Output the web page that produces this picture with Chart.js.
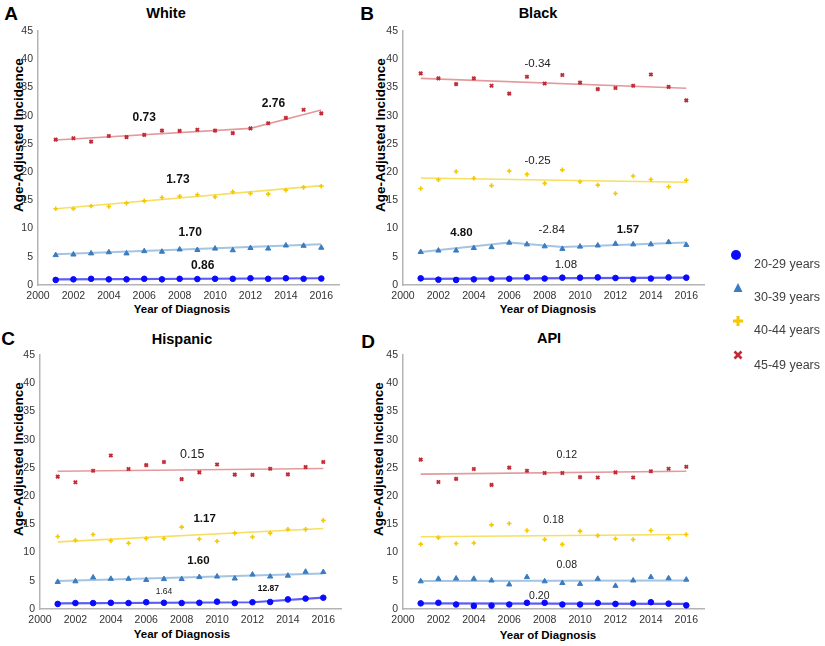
<!DOCTYPE html>
<html><head><meta charset="utf-8">
<script src="https://cdn.jsdelivr.net/npm/chart.js@4.4.0/dist/chart.umd.min.js"></script>
<style>
body{margin:0;background:#fff;width:825px;height:646px;position:relative;overflow:hidden;font-family:"Liberation Sans",Arial,sans-serif;}
canvas{position:absolute;}
.t{position:absolute;white-space:nowrap;transform:translate(-50%,-50%);color:#000;line-height:1;}
.letter{font-weight:bold;font-size:19px;}
.title{font-weight:bold;font-size:14.5px;}
.xt{font-weight:bold;font-size:11.5px;}
.yt{font-weight:bold;font-size:13.5px;transform:translate(-50%,-50%) rotate(-90deg);}
.lg{position:absolute;font-size:12.5px;color:#404040;white-space:nowrap;transform:translateY(-50%);line-height:1;}
svg{position:absolute;left:0;top:0;}
</style></head><body>
<div class="t letter" style="left:11px;top:13px">A</div>
<div class="t letter" style="left:367px;top:13px">B</div>
<div class="t letter" style="left:8px;top:338px">C</div>
<div class="t letter" style="left:368px;top:341px">D</div>
<div class="t title" style="left:166px;top:13px">White</div>
<div class="t title" style="left:538px;top:13px">Black</div>
<div class="t title" style="left:182px;top:339px">Hispanic</div>
<div class="t title" style="left:549px;top:338px">API</div>
<div class="t yt" style="left:19px;top:135px">Age-Adjusted Incidence</div>
<div class="t yt" style="left:381px;top:135px">Age-Adjusted Incidence</div>
<div class="t yt" style="left:19px;top:459px">Age-Adjusted Incidence</div>
<div class="t yt" style="left:379px;top:459px">Age-Adjusted Incidence</div>
<div class="t xt" style="left:182px;top:310px">Year of Diagnosis</div>
<div class="t xt" style="left:548px;top:310px">Year of Diagnosis</div>
<div class="t xt" style="left:182px;top:635px">Year of Diagnosis</div>
<div class="t xt" style="left:548px;top:636px">Year of Diagnosis</div>

<canvas id="cA"></canvas>
<canvas id="cB"></canvas>
<canvas id="cC"></canvas>
<canvas id="cD"></canvas>

<svg width="825" height="646">
  <circle cx="736" cy="255" r="5" fill="#0a0aff"/>
  <polygon points="738,283 742.5,292 733.5,292" fill="#3b7bbf"/>
  <path d="M738,316 L738,326 M733,321 L743,321" stroke="#f5c800" stroke-width="3"/>
  <path d="M734.5,351.5 L741.5,358.5 M741.5,351.5 L734.5,358.5" stroke="#c22a35" stroke-width="2.6"/>
</svg>
<div class="lg" style="left:754px;top:264px">20-29 years</div>
<div class="lg" style="left:754px;top:297px">30-39 years</div>
<div class="lg" style="left:754px;top:330px">40-44 years</div>
<div class="lg" style="left:754px;top:365px">45-49 years</div>

<script>
// ---------- data ----------
const years = [2001,2002,2003,2004,2005,2006,2007,2008,2009,2010,2011,2012,2013,2014,2015,2016];
const xTickValues = [2000,2002,2004,2006,2008,2010,2012,2014,2016];
const yTickValues = [0,5,10,15,20,25,30,35,40,45];
const ageGroups = ['20-29 years','30-39 years','40-44 years','45-49 years'];

// White
const white20 = [0.9,1.0,1.1,1.0,1.0,1.1,1.0,1.1,1.05,1.1,1.1,1.2,1.1,1.2,1.1,1.15];
const white30 = [5.3,5.4,5.6,5.8,5.6,6.0,5.9,6.3,6.2,6.45,6.15,6.55,6.45,7.0,6.95,6.6];
const white40 = [13.5,13.5,14.0,13.9,14.5,14.9,15.5,15.7,16.0,15.6,16.5,16.2,16.1,16.8,17.3,17.5];
const white45 = [25.75,26.0,25.4,26.4,26.2,26.6,27.35,27.3,27.5,27.35,26.9,27.75,28.65,29.6,31.05,30.4];
const white20TrendYears = [2001,2016], white20Trend = [1.0,1.2];
const white30TrendYears = [2001,2016], white30Trend = [5.45,7.2];
const white40TrendYears = [2001,2016], white40Trend = [13.5,17.6];
const white45TrendYears = [2001,2012,2016], white45Trend = [25.7,27.75,31.0];
const whiteApc = ['0.73','2.76','1.73','1.70','0.86'];

// Black
const black20 = [1.18,0.95,0.9,1.0,1.1,1.1,1.35,1.15,1.3,1.3,1.35,1.25,1.0,1.15,1.35,1.3];
const black30 = [5.85,6.1,6.1,6.55,6.7,7.5,7.2,6.85,6.4,6.8,7.0,7.3,7.2,7.2,7.6,7.1];
const black40 = [17.1,18.65,20.1,18.9,17.6,20.2,19.6,18.0,20.4,18.3,17.7,16.2,19.3,18.7,17.4,18.55];
const black45 = [37.5,36.6,35.6,36.6,35.3,33.9,36.9,35.7,37.2,35.85,34.7,34.9,35.3,37.3,35.1,32.7];
const black20TrendYears = [2001,2016], black20Trend = [1.1,1.3];
const black30TrendYears = [2001,2006,2009,2016], black30Trend = [5.85,7.55,6.73,7.55];
const black40TrendYears = [2001,2016], black40Trend = [18.95,18.2];
const black45TrendYears = [2001,2016], black45Trend = [36.6,34.85];
const blackApc = ['-0.34','-0.25','4.80','-2.84','1.57','1.08'];

// Hispanic
const hisp20 = [0.9,1.05,1.05,1.1,1.05,1.2,1.1,1.05,1.1,1.3,1.05,1.2,1.25,1.7,1.85,2.0];
const hisp30 = [4.8,4.9,5.6,5.35,5.35,5.15,5.3,5.3,5.65,5.75,5.4,6.1,5.75,5.9,6.6,6.55];
const hisp40 = [12.85,12.15,13.2,12.1,11.65,12.5,12.5,14.5,12.4,12.0,13.45,12.75,13.45,14.1,14.1,15.7];
const hisp45 = [23.45,22.45,24.5,27.2,24.8,25.5,26.05,23.0,24.2,25.6,23.8,23.75,24.85,23.85,25.15,26.05];
const hisp20TrendYears = [2001,2012,2016], hisp20Trend = [1.0,1.2,2.0];
const hisp30TrendYears = [2001,2016], hisp30Trend = [4.95,6.3];
const hisp40TrendYears = [2001,2016], hisp40Trend = [11.9,14.25];
const hisp45TrendYears = [2001,2016], hisp45Trend = [24.4,24.9];
const hispApc = ['0.15','1.17','1.60','1.64','12.87'];

// API
const api20 = [1.0,1.1,0.8,0.55,0.6,0.8,1.1,1.1,0.8,0.8,1.05,0.9,1.0,1.2,0.95,0.65];
const api30 = [4.9,5.35,5.4,5.35,5.05,4.35,5.65,4.9,4.6,4.45,5.35,4.1,5.05,5.65,5.45,5.2];
const api40 = [11.5,12.65,11.6,11.7,14.9,15.15,13.9,12.3,11.45,13.8,13.0,12.45,12.3,13.9,12.55,13.2];
const api45 = [26.45,22.5,23.05,24.8,22.0,25.05,24.5,24.1,24.1,23.35,23.3,24.2,23.3,24.4,24.85,25.2];
const api20TrendYears = [2001,2016], api20Trend = [1.0,0.9];
const api30TrendYears = [2001,2016], api30Trend = [4.95,5.05];
const api40TrendYears = [2001,2016], api40Trend = [12.8,13.2];
const api45TrendYears = [2001,2016], api45Trend = [23.9,24.4];
const apiApc = ['0.12','0.18','0.08','0.20'];

// ---------- styles ----------
const FONT = '"Liberation Sans", Arial, sans-serif';
const groupStyle = [
  {point:'#0a0aff', line:'#5c5cf6', lw:2.2, style:'circle', r:2.8, bw:1},
  {point:'#3b7bbf', line:'#a3c4e2', lw:2.0, style:'triangle', r:3.0, bw:1},
  {point:'#f5c800', line:'#f6df62', lw:1.6, style:'cross', r:2.3, bw:1.6},
  {point:'#c22a35', line:'#e49a9c', lw:1.6, style:'crossRot', r:2.3, bw:2.0}
];

function pts(xs, ys){ return xs.map((x,i)=>({x:x, y:ys[i]})); }

function buildDatasets(series, trends){
  const ds = [];
  series.forEach((vals,gi)=>{
    const st = groupStyle[gi];
    ds.push({label:ageGroups[gi], data:pts(years, vals), showLine:false,
      pointStyle:st.style, pointRadius:st.r, pointBorderWidth:st.bw,
      pointBackgroundColor:st.point, pointBorderColor:st.point, order:1});
    ds.push({label:ageGroups[gi]+' trend', data:pts(trends[gi][0], trends[gi][1]), showLine:true,
      borderColor:st.line, borderWidth:st.lw, pointRadius:0, tension:0, order:2});
  });
  return ds;
}

const apcPlugin = {
  id:'apc',
  afterDatasetsDraw(chart, args, opts){
    const {ctx} = chart; const x = chart.scales.x, y = chart.scales.y;
    ctx.save();
    (opts.items||[]).forEach(it=>{
      ctx.font = (it.bold?'bold ':'') + it.size + 'px ' + FONT;
      ctx.fillStyle = it.bold ? '#111' : '#222';
      ctx.textAlign = 'center'; ctx.textBaseline = 'middle';
      ctx.fillText(it.text, x.getPixelForValue(it.year), y.getPixelForValue(it.value));
    });
    ctx.restore();
  }
};

function makePanel(id, box, datasets, items){
  const cv = document.getElementById(id);
  cv.width = box.w; cv.height = box.h;
  cv.style.left = box.left+'px'; cv.style.top = box.top+'px';
  cv.style.width = box.w+'px'; cv.style.height = box.h+'px';
  new Chart(cv, {
    type:'scatter',
    data:{datasets},
    plugins:[apcPlugin],
    options:{
      responsive:false, animation:false, devicePixelRatio:1,
      layout:{padding:{top:box.padTop, right:box.padRight, left:0, bottom:0}},
      plugins:{legend:{display:false}, tooltip:{enabled:false}, apc:{items}},
      scales:{
        x:{type:'linear', min:2000, max:2017,
          afterBuildTicks:s=>{ s.ticks = xTickValues.map(v=>({value:v})); },
          afterFit:s=>{ s.height = box.xh; },
          grid:{display:false, drawTicks:false},
          border:{display:true, color:'#b4b4b4', width:1.5},
          ticks:{padding:5, color:'#333', font:{family:FONT, size:10.5}, callback:v=>String(v), maxRotation:0, autoSkip:false}},
        y:{type:'linear', min:0, max:45,
          afterBuildTicks:s=>{ s.ticks = yTickValues.map(v=>({value:v})); },
          afterFit:s=>{ s.width = box.yw; },
          grid:{display:false, drawTicks:false},
          border:{display:true, color:'#b4b4b4', width:1.5},
          ticks:{padding:5, color:'#333', font:{family:FONT, size:10.5}, callback:v=>String(v)}}
      }
    }
  });
}

function apcItems(texts, spec){ return spec.map((s,i)=>Object.assign({text:texts[i]}, s)); }

makePanel('cA', {left:0, top:0, w:345, h:322, padTop:31, padRight:5, yw:38, xh:37},
  buildDatasets([white20,white30,white40,white45],
    [[white20TrendYears,white20Trend],[white30TrendYears,white30Trend],[white40TrendYears,white40Trend],[white45TrendYears,white45Trend]]),
  apcItems(whiteApc, [
    {year:2006.0, value:29.6, bold:true, size:12},
    {year:2013.3, value:32.1, bold:true, size:12},
    {year:2007.9, value:18.6, bold:true, size:12},
    {year:2008.6, value:9.2, bold:true, size:12},
    {year:2009.3, value:3.5, bold:true, size:12}]));

makePanel('cB', {left:360, top:0, w:350, h:322, padTop:31, padRight:5, yw:43, xh:37},
  buildDatasets([black20,black30,black40,black45],
    [[black20TrendYears,black20Trend],[black30TrendYears,black30Trend],[black40TrendYears,black40Trend],[black45TrendYears,black45Trend]]),
  apcItems(blackApc, [
    {year:2007.6, value:39.15, bold:false, size:11.5},
    {year:2007.6, value:22.0, bold:false, size:11.5},
    {year:2003.3, value:9.3, bold:true, size:11.5},
    {year:2008.4, value:9.75, bold:false, size:11.5},
    {year:2012.7, value:9.85, bold:true, size:11.5},
    {year:2009.2, value:3.65, bold:false, size:11.5}]));

makePanel('cC', {left:0, top:322, w:347, h:324, padTop:33, padRight:5, yw:40, xh:37},
  buildDatasets([hisp20,hisp30,hisp40,hisp45],
    [[hisp20TrendYears,hisp20Trend],[hisp30TrendYears,hisp30Trend],[hisp40TrendYears,hisp40Trend],[hisp45TrendYears,hisp45Trend]]),
  apcItems(hispApc, [
    {year:2008.6, value:27.3, bold:false, size:12.5},
    {year:2009.3, value:15.95, bold:true, size:11.5},
    {year:2008.95, value:8.5, bold:true, size:11.5},
    {year:2007.0, value:3.1, bold:false, size:8.5},
    {year:2012.9, value:3.6, bold:true, size:8.5}]));

makePanel('cD', {left:360, top:322, w:350, h:324, padTop:33, padRight:5, yw:43, xh:37},
  buildDatasets([api20,api30,api40,api45],
    [[api20TrendYears,api20Trend],[api30TrendYears,api30Trend],[api40TrendYears,api40Trend],[api45TrendYears,api45Trend]]),
  apcItems(apiApc, [
    {year:2009.25, value:27.3, bold:false, size:10.5},
    {year:2008.5, value:15.7, bold:false, size:10.5},
    {year:2009.25, value:7.75, bold:false, size:10.5},
    {year:2007.7, value:2.3, bold:false, size:10.5}]));
</script>
</body></html>
